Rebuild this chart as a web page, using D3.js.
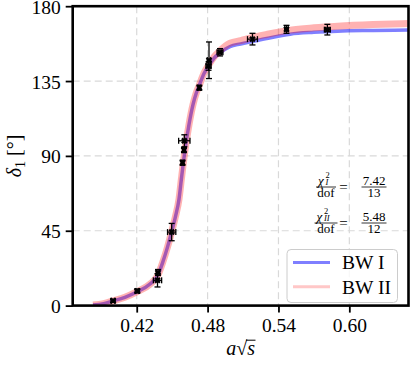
<!DOCTYPE html>
<html>
<head>
<meta charset="utf-8">
<script src="https://cdn.jsdelivr.net/npm/d3@7"></script>
<style>
  body { margin: 0; background: #fff; }
  svg { display: block; }
  text { font-family: "Liberation Serif", "DejaVu Serif", serif; fill: #000; }
</style>
</head>
<body>
<div id="chart"></div>
<script>
// Data

// fitted curves (a*sqrt(s), phase shift in degrees)
const curveX = [0.383, 0.392, 0.400, 0.410, 0.420, 0.431, 0.438, 0.442, 0.446, 0.4496,
	0.4528, 0.4558, 0.4578, 0.4609, 0.4643, 0.4677, 0.4705, 0.4730, 0.477, 0.4812,
	0.4855, 0.4906, 0.499, 0.508, 0.518, 0.530, 0.550, 0.570, 0.590, 0.620, 0.650];
const bw1Y = [0.3, 1.2, 2.8, 5.0, 8.2, 12.8, 18.4, 26, 35, 44.4,
	53.5, 64, 76, 93.5, 109, 121, 128, 132.5, 139.5, 144.5,
	148.8, 152, 155.7, 157.3, 158.8, 160.6, 163.2, 164.3, 165, 165.4, 165.7];
const bw2Y = [0.3, 1.2, 2.8, 5.0, 8.2, 12.8, 18.4, 26, 35, 44.4,
	53.5, 64, 76, 93.5, 109, 121, 128, 132.5, 139.8, 145,
	149.5, 153.3, 157.8, 159.3, 161.2, 163, 165.6, 167, 168, 169, 169.6];

// lattice points with errors
const ptX    = [0.4000, 0.4205, 0.4376, 0.4380, 0.4496, 0.4588, 0.4600, 0.4603, 0.4730, 0.4808, 0.4812, 0.4905, 0.5180, 0.5468, 0.5814];
const ptY    = [2.9, 8.8, 15.2, 19.9, 44.2, 85.9, 93.5, 99.1, 131.0, 144.0, 147.5, 152.3, 160.2, 166.1, 165.9];
const ptXerr = [0.0018, 0.0018, 0.0035, 0.0015, 0.0035, 0.0012, 0.0012, 0.0048, 0.0012, 0.0022, 0.0015, 0.0025, 0.0042, 0.0015, 0.0025];
const ptYerr = [1.0, 1.2, 4.0, 1.8, 5.2, 1.5, 1.5, 3.6, 1.5, 2.5, 11.0, 2.2, 3.5, 2.4, 3.2];

const xTicks = [0.42, 0.48, 0.54, 0.60];
const yTicks = [0, 45, 90, 135, 180];
const legendLabels = ["BW I", "BW II"];

const svgWidth = 411;
const svgHeight = 365;
const margin = { top: 6.2, right: 2.5, bottom: 59.4, left: 72.7 };
const width = svgWidth - margin.left - margin.right;
const height = svgHeight - margin.top - margin.bottom;

const svg = d3.select("#chart")
	.append("svg")
	.attr("width", svgWidth)
	.attr("height", svgHeight);

const g = svg.append("g")
	.attr("transform", `translate(${margin.left},${margin.top})`);

const x = d3.scaleLinear().domain([0.3658, 0.6501]).range([0, width]);
const y = d3.scaleLinear().domain([0, 180]).range([height, 0]);

// grid
g.append("g").selectAll("line")
	.data(xTicks)
	.join("line")
	.attr("x1", d => x(d)).attr("x2", d => x(d))
	.attr("y1", 0).attr("y2", height)
	.attr("stroke", "#d9d9d9").attr("stroke-width", 1.2)
	.attr("stroke-dasharray", "7,4");
g.append("g").selectAll("line")
	.data(yTicks.slice(1, -1))
	.join("line")
	.attr("y1", d => y(d)).attr("y2", d => y(d))
	.attr("x1", 0).attr("x2", width)
	.attr("stroke", "#d9d9d9").attr("stroke-width", 1.2)
	.attr("stroke-dasharray", "7,4");

// curves
svg.append("clipPath").attr("id", "clip")
	.append("rect").attr("width", width).attr("height", height);

const line = d3.line()
	.x(d => x(d[0]))
	.y(d => y(d[1]))
	.curve(d3.curveMonotoneX);

const curves = g.append("g").attr("clip-path", "url(#clip)");
curves.append("path")
	.datum(curveX.map((v, i) => [v, bw1Y[i]]))
	.attr("d", line)
	.attr("fill", "none")
	.attr("stroke", "rgb(0,0,255)")
	.attr("stroke-opacity", 0.5)
	.attr("stroke-width", 3.5);
curves.append("path")
	.datum(curveX.map((v, i) => [v, bw2Y[i]]))
	.attr("d", line)
	.attr("fill", "none")
	.attr("stroke", "rgb(255,0,0)")
	.attr("stroke-opacity", 0.3)
	.attr("stroke-width", 7);

// error bars + markers
const pts = ptX.map((v, i) => ({ x: v, y: ptY[i], xe: ptXerr[i], ye: ptYerr[i] }));
const eb = g.append("g").selectAll("g")
	.data(pts)
	.join("g")
	.attr("stroke", "#000")
	.attr("stroke-width", 1.3);
eb.append("line")
	.attr("x1", d => x(d.x)).attr("x2", d => x(d.x))
	.attr("y1", d => y(d.y - d.ye)).attr("y2", d => y(d.y + d.ye));
eb.append("line")
	.attr("x1", d => x(d.x - d.xe)).attr("x2", d => x(d.x + d.xe))
	.attr("y1", d => y(d.y)).attr("y2", d => y(d.y));
// caps
[-1, 1].forEach(s => {
	eb.append("line")
		.attr("x1", d => x(d.x) - 3).attr("x2", d => x(d.x) + 3)
		.attr("y1", d => y(d.y + s * d.ye)).attr("y2", d => y(d.y + s * d.ye));
	eb.append("line")
		.attr("y1", d => y(d.y) - 3).attr("y2", d => y(d.y) + 3)
		.attr("x1", d => x(d.x + s * d.xe)).attr("x2", d => x(d.x + s * d.xe));
});
eb.append("path")
	.attr("d", d3.symbol(d3.symbolCross, 26))
	.attr("transform", d => `translate(${x(d.x)},${y(d.y)}) rotate(45)`)
	.attr("fill", "#000")
	.attr("stroke", "none");

// axes
const bottomAxis = d3.axisBottom(x).tickValues(xTicks).tickFormat(d3.format(".2f")).tickSize(7).tickPadding(6);
const leftAxis = d3.axisLeft(y).tickValues(yTicks).tickSize(7).tickPadding(5);

const xAxis = g.append("g")
	.attr("transform", `translate(0,${height})`)
	.call(bottomAxis);
const yAxis = g.append("g").call(leftAxis);

[xAxis, yAxis].forEach(a => {
	a.select(".domain").remove();
	a.selectAll(".tick line").attr("stroke", "#000").attr("stroke-width", 1.8);
	a.selectAll(".tick text")
		.attr("font-family", "Liberation Serif, serif")
		.attr("font-size", 19.5)
		.attr("fill", "#000");
});
yAxis.selectAll(".tick text").attr("dy", "0.36em");

// frame
g.append("rect")
	.attr("width", width).attr("height", height)
	.attr("fill", "none")
	.attr("stroke", "#000")
	.attr("stroke-width", 2.6);

// axis labels
const xl = svg.append("text")
	.attr("x", margin.left + width / 2)
	.attr("y", 355)
	.attr("text-anchor", "middle")
	.attr("font-size", 20);
xl.append("tspan").attr("font-style", "italic").text("a");
xl.append("tspan").text("\u221A");
xl.append("tspan").attr("font-style", "italic").text("s");
// vinculum over s
const rad = xl.node().getExtentOfChar(1);
const sExt = xl.node().getExtentOfChar(2);
svg.append("line")
	.attr("x1", rad.x + rad.width - 1.2).attr("x2", sExt.x + sExt.width + 0.5)
	.attr("y1", rad.y + 3.2).attr("y2", rad.y + 3.2)
	.attr("stroke", "#000").attr("stroke-width", 1);

const yl = svg.append("text")
	.attr("transform", `translate(21,${margin.top + height / 2}) rotate(-90)`)
	.attr("text-anchor", "middle")
	.attr("font-size", 20);
yl.append("tspan").attr("font-style", "italic").text("\u03B4");
yl.append("tspan").attr("font-size", 14).attr("dy", 4).text("1");
yl.append("tspan").attr("dy", -4).text(" [\u00B0]");

// chi^2 / dof annotations
function fracBar(cx, barY, w) {
	svg.append("line")
		.attr("x1", cx - w / 2).attr("x2", cx + w / 2)
		.attr("y1", barY).attr("y2", barY)
		.attr("stroke", "#000").attr("stroke-width", 0.8);
}
function smallText(tx, ty, str, size, anchor, italic) {
	return svg.append("text")
		.attr("x", tx).attr("y", ty)
		.attr("text-anchor", anchor)
		.attr("font-size", size)
		.attr("font-style", italic ? "italic" : "normal")
		.text(str);
}
const chiRows = [
	{ sub: "I", num: "7.42", den: "13", bar: 187 },
	{ sub: "II", num: "5.48", den: "12", bar: 223 }
];
chiRows.forEach(r => {
	const w1 = r.sub === "I" ? 20 : 23;
	fracBar(326, r.bar, w1);
	const chiLeft = r.sub === "I" ? 318 : 316.5;
	smallText(chiLeft, r.bar - 2.5, "\u03C7", 13, "start", true);
	smallText(chiLeft + 7.5, r.bar - 8.6, "2", 8.5, "start", false);
	smallText(chiLeft + 7.5, r.bar - 1.6, r.sub, 8.5, "start", true);
	smallText(326, r.bar + 10, "dof", 13, "middle", false);
	smallText(343.5, r.bar + 4.5, "=", 15, "middle", false);
	fracBar(374, r.bar, 25);
	smallText(374, r.bar - 2.5, r.num, 13, "middle", false);
	smallText(374, r.bar + 10, r.den, 13, "middle", false);
});

// legend
const lg = svg.append("g");
lg.append("rect")
	.attr("x", 287).attr("y", 249.5)
	.attr("width", 110.5).attr("height", 53)
	.attr("rx", 4)
	.attr("fill", "#fff").attr("fill-opacity", 0.8)
	.attr("stroke", "#cccccc").attr("stroke-width", 1);
const legColors = [["rgb(0,0,255)", 0.5], ["rgb(255,0,0)", 0.22]];
legendLabels.forEach((lab, i) => {
	const ly = 262.5 + i * 24.3;
	lg.append("line")
		.attr("x1", 293).attr("x2", 330)
		.attr("y1", ly).attr("y2", ly)
		.attr("stroke", legColors[i][0])
		.attr("stroke-opacity", legColors[i][1])
		.attr("stroke-width", 3);
	lg.append("text")
		.attr("x", 342).attr("y", ly + 6.8)
		.attr("font-size", 19.5)
		.text(lab);
});
</script>
</body>
</html>
